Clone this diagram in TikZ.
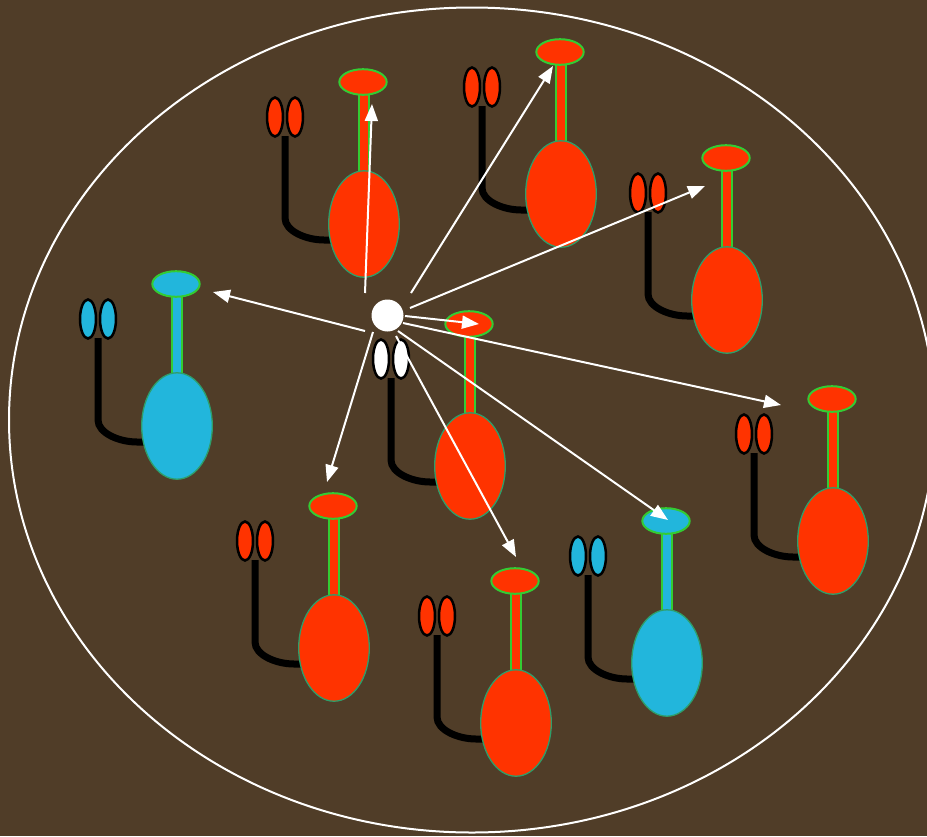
\documentclass[tikz,border=0pt]{standalone}
\usetikzlibrary{arrows.meta}

\definecolor{bgbrown}{RGB}{80,61,40}
\definecolor{molorange}{RGB}{255,51,0}
\definecolor{molcyan}{RGB}{34,182,220}
\definecolor{capgreen}{RGB}{51,204,51}
\definecolor{bodygreen}{RGB}{46,158,106}

\tikzset{
  arr/.style={draw=white, line width=2pt, -{Triangle[length=17pt,width=13pt]}},
  capshape/.style={draw=capgreen, line width=2pt},
  bodyshape/.style={draw=bodygreen, line width=1.3pt},
  stemshape/.style={draw=capgreen, line width=1.5pt},
  pairshape/.style={draw=black, line width=2.5pt},
  hookline/.style={draw=black, line width=7pt},
  pics/molecule/.style 2 args={code={
    % tail: hook from the small pair down and into the body
    \path[hookline] (-79,-88) -- (-79,-6) .. controls (-79,7) and (-58,16) .. (-40,16) -- (-30,16);
    % the two small lobes
    \path[pairshape, fill=#2] (-89,-107) ellipse [x radius=8, y radius=19.5];
    \path[pairshape, fill=#2] (-69,-107) ellipse [x radius=8, y radius=19.5];
    % stem, body and cap
    \path[stemshape, fill=#1] (-5,-132) rectangle (5,-50);
    \path[bodyshape, fill=#1] (0,0) ellipse [x radius=35.3, y radius=53.2];
    \path[capshape, fill=#1] (-1,-142) ellipse [x radius=23.7, y radius=12.8];
  }}
}

\begin{document}
\begin{tikzpicture}[x=1pt,y=-1pt]
  \useasboundingbox (0,0) rectangle (927,836);
  \fill[bgbrown] (0,0) rectangle (927,836);
  \clip (0,0) rectangle (927,836);

  % enclosing cell outline
  \draw[white, line width=2pt] (472,420) ellipse [x radius=463, y radius=412.5];

  % receptor molecules
  \pic (m1) at (364,224) {molecule={molorange}{molorange}};
  \pic (m2) at (561,194) {molecule={molorange}{molorange}};
  \pic (m3) at (727,300) {molecule={molorange}{molorange}};
  \pic (m4) at (177,426) {molecule={molcyan}{molcyan}};
  \pic (m5) at (470,466) {molecule={molorange}{white}};
  \pic (m6) at (833,541) {molecule={molorange}{molorange}};
  \pic (m7) at (334,648) {molecule={molorange}{molorange}};
  \pic (m8) at (516,723) {molecule={molorange}{molorange}};
  \pic (m9) at (667,663) {molecule={molcyan}{molcyan}};

  % signal source
  \node[circle, fill=white, minimum size=32pt, inner sep=0pt] (src) at (387.5,315.5) {};

  % arrow start points around the source
  \coordinate (s1) at (365,293);
  \coordinate (s2) at (411,293);
  \coordinate (s3) at (410,308);
  \coordinate (s4) at (365,331);
  \coordinate (s5) at (405,316);
  \coordinate (s6) at (403,323);
  \coordinate (s7) at (373,332);
  \coordinate (s8) at (396,336);
  \coordinate (s9) at (398,331);

  % arrow end points at the caps
  \coordinate (t1) at (372,104);
  \coordinate (t2) at (553,66);
  \coordinate (t3) at (705,186);
  \coordinate (t4) at (213,292);
  \coordinate (t5) at (479,324);
  \coordinate (t6) at (781,405);
  \coordinate (t7) at (327,482);
  \coordinate (t8) at (516,557);
  \coordinate (t9) at (668,520);

  \foreach \i in {1,...,9} {
    \draw[arr] (s\i) -- (t\i);
  }
\end{tikzpicture}
\end{document}
